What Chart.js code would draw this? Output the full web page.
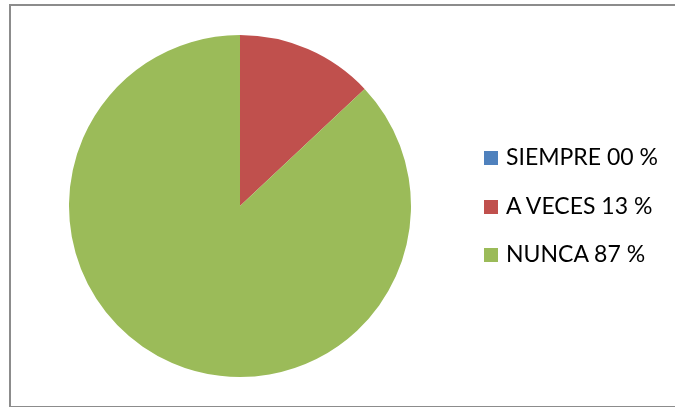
<!DOCTYPE html>
<html>
<head>
<meta charset="utf-8">
<script src="https://cdn.jsdelivr.net/npm/chart.js@4/dist/chart.umd.min.js"></script>
<style>
  html, body { margin: 0; padding: 0; background: #ffffff; }
  #wrap { position: relative; width: 675px; height: 407px; overflow: hidden; }
  #frame {
    position: absolute; left: 9px; top: 4px; width: 700px; height: 400px;
    border: 2px solid #8c8c8c; box-sizing: content-box;
  }
  #pie { position: absolute; left: 0; top: 0; }
  #legend { position: absolute; left: 484px; top: 0; font-family: Lato, "Open Sans", sans-serif; }
  .item { position: absolute; left: 0; white-space: nowrap; height: 20px; }
  .swatch { position: absolute; left: 0; top: 0; width: 14px; height: 14px; }
  .label { position: absolute; left: 22px; top: -6px; font-size: 23px; line-height: 23px; color: #000; }
</style>
</head>
<body>
<div id="wrap">
  <div id="frame"></div>
  <canvas id="pie" width="675" height="407"></canvas>
  <div id="legend"></div>
</div>
<script>
// Response categories and their share of answers (percent)
const categories = ["SIEMPRE", "A VECES", "NUNCA"];
const percentLabels = ["00 %", "13 %", "87 %"];
const percentages = [0, 13, 87];
const sliceColors = ["#4f81bd", "#c0504d", "#9bbb59"];

const legendTops = [151, 200, 248];

new Chart(document.getElementById("pie"), {
  type: "pie",
  data: {
    labels: categories.map((c, i) => c + " " + percentLabels[i]),
    datasets: [{
      data: percentages,
      backgroundColor: sliceColors,
      borderWidth: 0
    }]
  },
  options: {
    responsive: false,
    animation: false,
    layout: { padding: { left: 69, right: 264, top: 35, bottom: 30 } },
    plugins: {
      legend: { display: false },
      tooltip: { enabled: false }
    }
  }
});

// Legend entries built from the same category arrays
const legend = document.getElementById("legend");
categories.forEach((c, i) => {
  const item = document.createElement("div");
  item.className = "item";
  item.style.top = legendTops[i] + "px";
  const sw = document.createElement("div");
  sw.className = "swatch";
  sw.style.background = sliceColors[i];
  const lb = document.createElement("div");
  lb.className = "label";
  lb.textContent = c + " " + percentLabels[i];
  item.appendChild(sw);
  item.appendChild(lb);
  legend.appendChild(item);
});
</script>
</body>
</html>
